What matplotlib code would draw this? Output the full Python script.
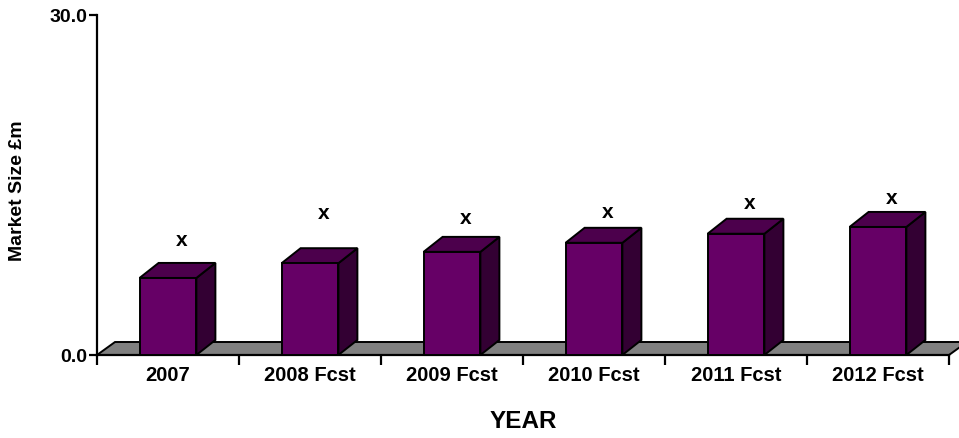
import matplotlib
matplotlib.use('Agg')
import matplotlib.pyplot as plt
from matplotlib.patches import Polygon, Rectangle

# ---- data ----
categories = ['2007', '2008 Fcst', '2009 Fcst', '2010 Fcst', '2011 Fcst', '2012 Fcst']
values = [6.8, 8.1, 9.1, 9.9, 10.7, 11.3]
point_labels = ['x', 'x', 'x', 'x', 'x', 'x']
label_heights = [10.1, 12.5, 12.0, 12.6, 13.4, 13.85]
y_ticks = [0, 30]
y_tick_labels = ['0.0', '30.0']
x_title = 'YEAR'
y_title = 'Market Size £m'

plt.rcParams['font.family'] = ['Liberation Sans', 'DejaVu Sans']
plt.rcParams['font.weight'] = 'bold'

W, H = 959, 438
fig = plt.figure(figsize=(W / 100, H / 100), dpi=100)
L, R, B, T = 97, 949, 355, 15
ax = fig.add_axes([L / W, (H - B) / H, (R - L) / W, (B - T) / H])
n = len(categories)
ax.set_xlim(0, n)
ax.set_ylim(0, 30)
ux = (R - L) / n
uy = (B - T) / 30.0


def px(dx, dy):
    return dx / ux, dy / uy


fdx, fdy = px(18, 13)
bdx, bdy = px(19, 15)

front_c = '#660066'
top_c = '#4c004c'
side_c = '#330033'
floor_c = '#808080'
lw = 1.4

# floor
floor = Polygon([(0, 0), (n, 0), (n + fdx, fdy), (fdx, fdy)], closed=True,
                facecolor=floor_c, edgecolor='black', linewidth=lw,
                clip_on=False, zorder=1)
ax.add_patch(floor)

bw = 0.4
for i, v in enumerate(values):
    c = i + 0.5
    x0, x1 = c - bw / 2, c + bw / 2
    side = Polygon([(x1, 0), (x1 + bdx, bdy), (x1 + bdx, v + bdy), (x1, v)],
                   closed=True, facecolor=side_c, edgecolor='black',
                   linewidth=lw, clip_on=False, zorder=3, joinstyle='miter')
    top = Polygon([(x0, v), (x1, v), (x1 + bdx, v + bdy), (x0 + bdx, v + bdy)],
                  closed=True, facecolor=top_c, edgecolor='black',
                  linewidth=lw, clip_on=False, zorder=3, joinstyle='miter')
    front = Rectangle((x0, 0), bw, v, facecolor=front_c, edgecolor='black',
                      linewidth=lw, clip_on=False, zorder=4, joinstyle='miter')
    ax.add_patch(side)
    ax.add_patch(top)
    ax.add_patch(front)
    ax.text(c + bdx * 0.7, label_heights[i], point_labels[i], ha='center',
            va='center', fontsize=15, fontweight='bold', zorder=5)

for s in ['top', 'right']:
    ax.spines[s].set_visible(False)
for s in ['left', 'bottom']:
    ax.spines[s].set_linewidth(1.6)
    ax.spines[s].set_zorder(2.5)

ax.set_yticks(y_ticks)
ax.set_yticklabels(y_tick_labels)
ax.tick_params(axis='y', direction='out', length=6, width=1.6, pad=1,
               labelsize=14)
for t in ax.get_yticklabels():
    t.set_fontweight('bold')

ax.set_xticks(range(n + 1))
ax.set_xticklabels([])
ax.tick_params(axis='x', which='major', direction='out', length=7, width=1.6)
ax.set_xticks([i + 0.5 for i in range(n)], minor=True)
ax.set_xticklabels(categories, minor=True)
ax.tick_params(axis='x', which='minor', length=0, pad=8, labelsize=14.5)
for t in ax.get_xticklabels(minor=True):
    t.set_fontweight('bold')

fig.text(523 / W, 1 - 421 / H, x_title, ha='center', va='center',
         fontsize=17.5, fontweight='bold')
fig.text(18 / W, 1 - 191 / H, y_title, ha='center', va='center',
         rotation=90, fontsize=14, fontweight='bold')

fig.savefig('out.png', dpi=100)
